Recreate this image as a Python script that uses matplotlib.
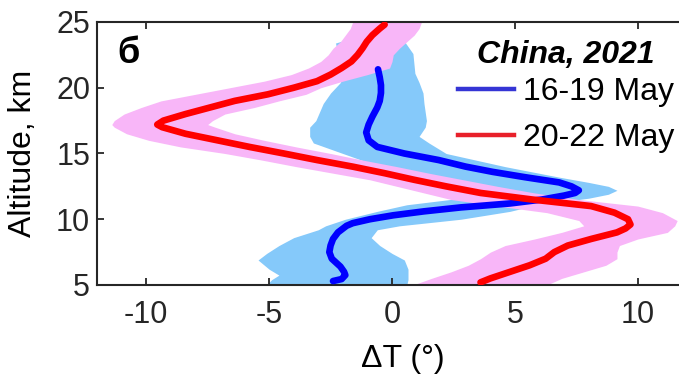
import matplotlib
matplotlib.use("Agg")
import matplotlib.pyplot as plt
from matplotlib.lines import Line2D

plt.rcParams["font.family"] = ["Liberation Sans", "DejaVu Sans"]
plt.rcParams["axes.unicode_minus"] = False

# ---- 16-19 May (blue) : mean profile and spread ----
blue_alt = [5.3, 5.45, 5.75, 6.0, 6.4, 7.0, 7.5, 8.0, 8.5, 9.0, 9.5, 9.7, 10.0,
            10.3, 10.6, 10.9, 11.2, 11.5, 11.8, 12.0, 12.2, 12.5, 12.8, 13.2,
            13.6, 14.0, 14.5, 15.0, 15.5, 16.0, 16.6, 17.2, 17.8, 18.5, 19.0,
            19.6, 20.2, 20.8, 21.4]
blue_dt = [-2.4, -2.05, -1.9, -1.95, -2.1, -2.45, -2.55, -2.5, -2.4, -2.2,
           -1.85, -1.6, -0.9, 0.05, 1.3, 2.8, 4.8, 6.1, 7.0, 7.45, 7.6, 7.3,
           6.8, 5.4, 4.1, 3.0, 1.9, 0.5, -0.6, -0.95, -1.05, -0.95, -0.8,
           -0.6, -0.5, -0.45, -0.45, -0.5, -0.57]

sky_alt = [5.0, 5.4, 5.75, 6.2, 6.9, 7.4, 8.0, 8.6, 9.2, 9.5, 10.0, 10.6, 11.1,
           11.6, 11.9, 12.2, 12.5, 12.8, 13.2, 14.0, 15.0, 15.8, 16.3, 17.0,
           17.5, 18.8, 19.6, 20.4, 21.1, 22.6, 23.4, 24.0, 24.3]
sky_lo = [-5.1, -4.9, -4.6, -5.0, -5.45, -5.1, -4.6, -4.0, -3.0, -2.7, -1.9,
          -0.6, 0.6, 2.8, 3.3, 3.5, 3.0, 2.5, 1.5, -0.5, -2.0, -3.2, -3.35,
          -3.35, -3.1, -2.8, -2.5, -2.1, -2.0, -2.2, -2.3, -1.2, -0.3]
sky_hi = [0.6, 0.65, 0.65, 0.65, 0.5, 0.0, -0.5, -0.85, -0.6, 0.3, 2.8, 4.8,
          5.9, 8.0, 8.8, 9.15, 8.8, 8.0, 6.8, 4.6, 2.2, 1.5, 1.1, 1.35, 1.4,
          1.3, 1.26, 1.1, 0.93, 0.85, 0.55, 0.35, 0.1]

# ---- 20-22 May (red) : mean profile and spread ----
red_alt = [5.2, 5.5, 6.0, 6.5, 7.0, 7.5, 8.0, 8.5, 9.0, 9.3, 9.6, 10.0, 10.5,
           11.0, 11.5, 12.0, 12.5, 13.0, 13.5, 14.0, 14.5, 15.0, 15.5, 16.0,
           16.5, 17.0, 17.2, 17.5, 18.0, 18.5, 19.0, 19.5, 20.0, 20.5, 21.0,
           21.5, 22.0, 22.5, 23.0, 23.5, 24.0, 24.5, 24.8]
red_dt = [3.6, 4.0, 4.8, 5.6, 6.25, 6.6, 7.15, 8.1, 9.15, 9.5, 9.7, 9.6, 9.05,
          8.1, 5.7, 3.6, 2.2, 0.9, -0.3, -1.6, -3.05, -4.4, -5.8, -7.1, -8.4,
          -9.35, -9.55, -9.3, -8.4, -7.4, -6.4, -5.05, -4.0, -3.05, -2.5,
          -2.05, -1.65, -1.4, -1.2, -1.03, -0.8, -0.5, -0.3]

pink_alt = [5.0, 5.5, 6.0, 6.5, 7.0, 7.5, 8.0, 8.5, 9.0, 9.5, 9.9, 10.5, 11.0,
            11.5, 12.0, 12.5, 13.0, 13.5, 14.0, 14.5, 15.0, 15.5, 16.0, 16.5,
            17.0, 17.2, 17.5, 18.0, 18.5, 19.0, 19.5, 20.0, 20.5, 21.0, 21.5,
            22.0, 22.5, 23.0, 23.5, 24.0, 24.5, 25.0]
pink_lo = [0.85, 1.6, 2.4, 3.1, 3.6, 4.0, 4.6, 5.8, 6.9, 7.8, 7.6, 6.3, 4.3,
           2.4, 1.3, 0.2, -0.9, -2.4, -3.9, -5.3, -6.8, -8.6, -9.9, -10.8,
           -11.3, -11.4, -11.3, -10.9, -10.2, -9.4, -8.0, -6.6, -5.2, -4.1,
           -3.4, -2.9, -2.6, -2.4, -2.1, -1.9, -1.7, -1.6]
pink_hi = [6.3, 6.9, 7.8, 8.7, 9.15, 9.15, 9.25, 10.0, 11.2, 11.5, 11.6, 11.0,
           10.0, 7.6, 5.8, 4.3, 2.9, 1.5, 0.2, -1.2, -2.5, -3.9, -5.2, -6.4,
           -7.2, -7.5, -7.3, -6.8, -5.6, -4.6, -3.5, -2.9, -2.0, -1.0, -0.1,
           0.0, 0.05, 0.3, 0.6, 0.9, 1.1, 1.2]

x_ticks = [-10, -5, 0, 5, 10]
y_ticks = [5, 10, 15, 20, 25]

AX_COL = "#262626"

fig = plt.figure(figsize=(6.79, 3.74), dpi=100)
ax = fig.add_axes([0.1429, 0.238, 0.8689, 0.7032])

ax.fill_betweenx(sky_alt, sky_lo, sky_hi, color="#85C9FA", lw=0, zorder=1)
ax.fill_betweenx(pink_alt, pink_lo, pink_hi, color="#F8B6F8", lw=0, zorder=2)
ax.plot(blue_dt, blue_alt, color="#0000FF", lw=4.8,
        solid_capstyle="round", zorder=3)
ax.plot(red_dt, red_alt, color="#FF0000", lw=4.8,
        solid_capstyle="round", zorder=4)

ax.set_xlim(-12, 12)
ax.set_ylim(5, 25)
ax.set_xticks(x_ticks)
ax.set_yticks(y_ticks)

for sp in ax.spines.values():
    sp.set_color(AX_COL)
    sp.set_linewidth(1.5)
ax.tick_params(direction="in", length=5, width=1.3, color=AX_COL,
               labelcolor=AX_COL, labelsize=22, top=True, right=True)
ax.tick_params(axis="x", pad=11)
ax.tick_params(axis="y", pad=5)

ax.set_xlabel("ΔT (°)", fontsize=23, color="black")
ax.xaxis.set_label_coords(0.519, -0.225)
ax.set_ylabel("Altitude, km", fontsize=23, color="black")
ax.yaxis.set_label_coords(-0.1, 0.5)

ax.text(0.034, 0.845, "б", transform=ax.transAxes, fontsize=26,
        fontweight="bold", color="black", va="baseline", ha="left")

handles = [
    Line2D([0], [0], color="#3535D5", lw=3.2, label="16-19 May"),
    Line2D([0], [0], color="#E8202A", lw=3.2, label="20-22 May"),
]
leg = ax.legend(handles=handles, loc="upper right",
                bbox_to_anchor=(0.978, 0.932), frameon=False, fontsize=23,
                title="China, 2021", handlelength=1.75, handletextpad=0.28,
                labelspacing=0.5, borderpad=0, borderaxespad=0)
leg.get_title().set_fontweight("bold")
leg.get_title().set_fontstyle("italic")
leg.get_title().set_fontsize(23)
leg._legend_box.sep = 5

fig.savefig("out.png", dpi=100)
